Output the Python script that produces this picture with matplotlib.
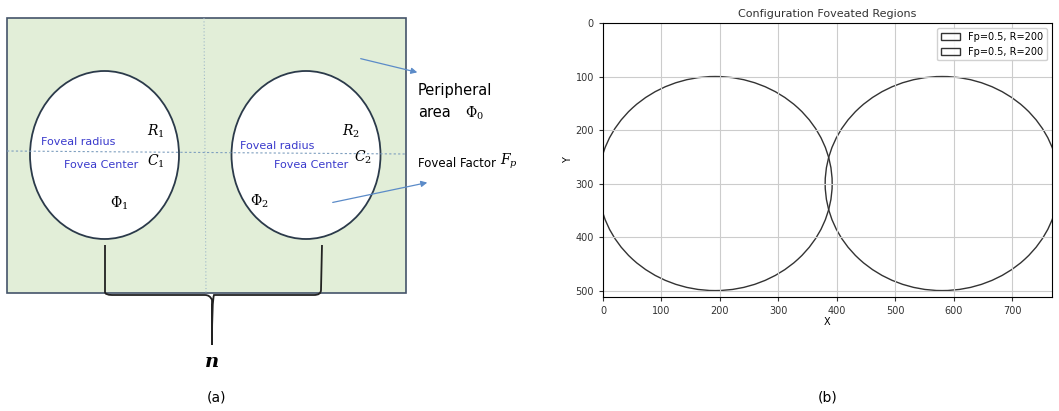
import numpy as np
import matplotlib.pyplot as plt
from matplotlib.patches import Ellipse, Circle, Rectangle, FancyArrowPatch
from matplotlib.path import Path
from matplotlib.patches import PathPatch

plt.rcParams['mathtext.fontset'] = 'dejavuserif'

# panel (b) data
centers_x = [192, 580]
centers_y = [300, 300]
radii = [200, 200]
fp_values = [0.5, 0.5]
x_ticks = [0, 100, 200, 300, 400, 500, 600, 700]
y_ticks = [0, 100, 200, 300, 400, 500]
img_w, img_h = 768, 512

W, H = 1059, 411
fig = plt.figure(figsize=(W / 100, H / 100), dpi=100)

# ---- panel (a): schematic in pixel coordinates
d = fig.add_axes([0, 0, 1, 1])
d.set_xlim(0, W)
d.set_ylim(H, 0)
d.axis('off')

d.add_patch(Rectangle((7, 18), 399, 275, facecolor='#e2eed8', edgecolor='#44546a', lw=1.2))
d.plot([204, 206], [18, 293], color='#9fb8c8', ls=(0, (1, 2)), lw=0.8)
for cx in [104.5, 306]:
    d.add_patch(Ellipse((cx, 155), 149, 168, facecolor='white', edgecolor='#2b3a4a', lw=1.3))
d.plot([7, 406], [151, 154], color='#7f9fbf', ls=(0, (2, 2)), lw=0.8)

blue = '#3a3acc'
d.text(41, 142, 'Foveal radius', color=blue, fontsize=8, va='center')
d.text(64, 165, 'Fovea Center', color=blue, fontsize=8, va='center')
d.text(240, 146, 'Foveal radius', color=blue, fontsize=8, va='center')
d.text(274, 165, 'Fovea Center', color=blue, fontsize=8, va='center')
math = dict(fontsize=10, va='center')
d.text(147, 131, r'$R_1$', **math)
d.text(147, 161, r'$C_1$', **math)
d.text(110, 203, r'$\Phi_1$', **math)
d.text(342, 131, r'$R_2$', **math)
d.text(354, 157, r'$C_2$', **math)
d.text(250, 201, r'$\Phi_2$', **math)

d.text(418, 90, 'Peripheral', fontsize=10.5, va='center')
d.text(418, 112, 'area', fontsize=10.5, va='center')
d.text(465, 113, r'$\Phi_0$', **math)
d.text(418, 163, 'Foveal Factor', fontsize=8.5, va='center')
d.text(500, 161, r'$F_p$', **math)
for (x0, y0), (x1, y1) in [((358, 58), (420, 73)), ((330, 203), (430, 182))]:
    d.add_patch(FancyArrowPatch((x0, y0), (x1, y1), arrowstyle='-|>', mutation_scale=9,
                                color='#5b8bc8', lw=0.9))

# brace
verts = [(105, 245), (105, 292), (105, 295), (112, 295),
         (205, 295), (210, 295), (212, 300), (212, 345),
         (212, 300), (214, 295), (219, 295),
         (314, 295), (321, 295), (321, 290), (322, 245)]
codes = [Path.MOVETO, Path.LINETO, Path.CURVE3, Path.CURVE3,
         Path.LINETO, Path.CURVE3, Path.CURVE3, Path.LINETO,
         Path.CURVE3, Path.CURVE3, Path.LINETO,
         Path.LINETO, Path.CURVE3, Path.CURVE3, Path.LINETO]
d.add_patch(PathPatch(Path(verts, codes), fill=False, color='#222222', lw=1.3))
d.text(212, 362, 'n', fontsize=14, ha='center', va='center',
       family='DejaVu Serif', fontweight='bold', style='italic')
d.text(216, 397, '(a)', fontsize=10, ha='center', va='center')
d.text(828, 397, '(b)', fontsize=10, ha='center', va='center')

# ---- panel (b)
ax = fig.add_axes([603 / W, (H - 297) / H, 449 / W, 274 / H])
for cx, cy, r, fp in zip(centers_x, centers_y, radii, fp_values):
    ax.add_patch(Circle((cx, cy), r, fill=False, edgecolor='#333333', lw=1.0,
                        label=f'Fp={fp}, R={r}'))
ax.set_xlim(0, img_w)
ax.set_ylim(img_h, 0)
ax.set_xticks(x_ticks)
ax.set_yticks(y_ticks)
ax.tick_params(labelsize=7, length=3, colors='#333333')
ax.grid(True, color='#cccccc', lw=0.8)
ax.set_title('Configuration Foveated Regions', fontsize=8, pad=4, color='#333333')
ax.set_xlabel('X', fontsize=7, labelpad=1)
ax.set_ylabel('Y', fontsize=7, labelpad=2)
ax.legend(loc='upper right', fontsize=7, framealpha=0.9)

fig.savefig('out.png', dpi=100)
